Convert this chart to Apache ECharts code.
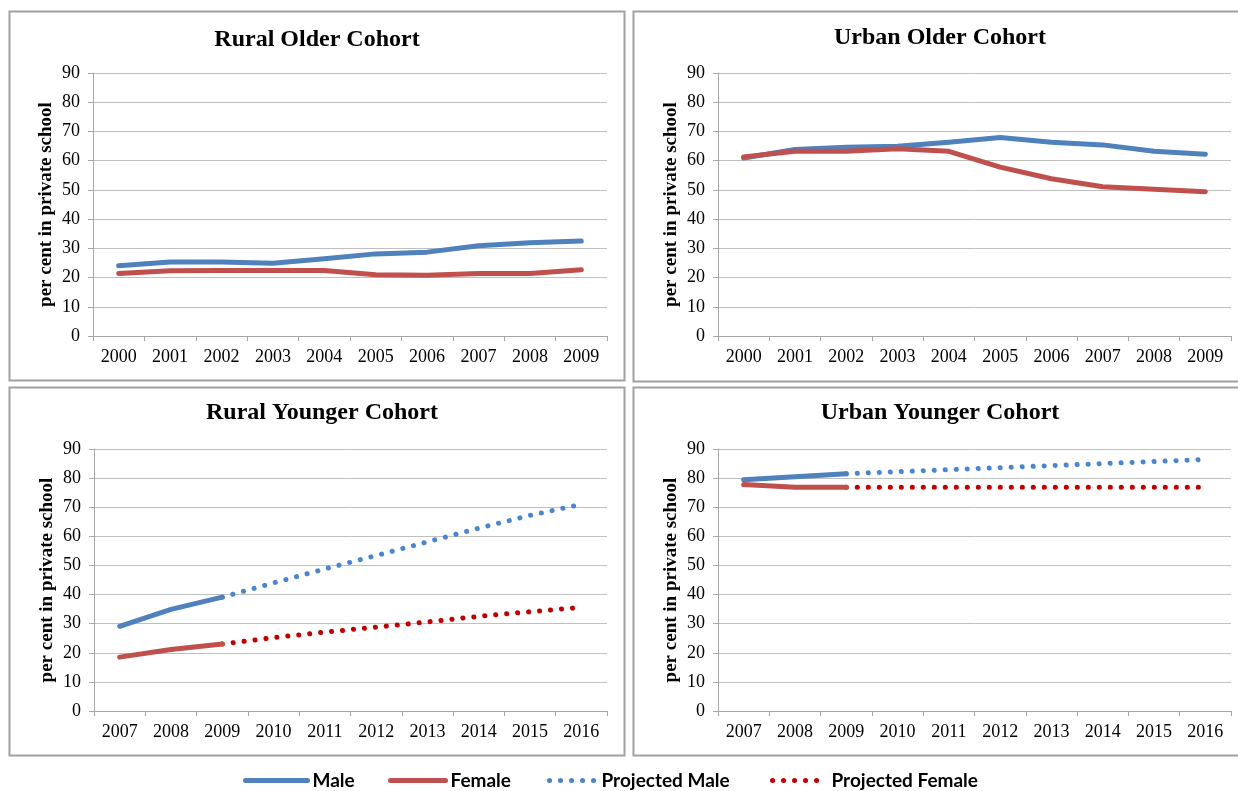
<!DOCTYPE html>
<html>
<head>
<meta charset="utf-8">
<script src="https://cdn.jsdelivr.net/npm/echarts@6/dist/echarts.min.js"></script>
<style>
html,body{margin:0;padding:0;background:#fff;}
#chart{width:1238px;height:791px;}
</style>
</head>
<body>
<div id="chart"></div>
<script>
// ---- Data ----
const olderYears = ['2000','2001','2002','2003','2004','2005','2006','2007','2008','2009'];
const youngerYears = ['2007','2008','2009','2010','2011','2012','2013','2014','2015','2016'];
const yTicks = [0,10,20,30,40,50,60,70,80,90];
const panelTitles = ['Rural Older Cohort','Urban Older Cohort','Rural Younger Cohort','Urban Younger Cohort'];
const legendNames = ['Male','Female','Projected Male','Projected Female'];

const ruralOlderMale   = [24.0,25.3,25.3,24.9,26.4,28.1,28.7,30.9,31.9,32.5];
const ruralOlderFemale = [21.4,22.3,22.4,22.4,22.4,21.0,20.8,21.4,21.4,22.7];
const urbanOlderMale   = [60.9,63.8,64.6,64.9,66.3,67.9,66.3,65.4,63.2,62.2];
const urbanOlderFemale = [61.3,63.2,63.2,64.1,63.2,57.8,53.8,51.1,50.2,49.4];

const ruralYoungerMale       = [29.1,34.9,39.1,null,null,null,null,null,null,null];
const ruralYoungerFemale     = [18.5,21.1,23.0,null,null,null,null,null,null,null];
const ruralYoungerProjMale   = [null,null,39.1,44.0,48.8,53.4,58.1,62.8,67.2,71.0];
const ruralYoungerProjFemale = [null,null,23.0,25.2,27.1,28.8,30.6,32.5,34.1,35.6];

const urbanYoungerMale       = [79.4,80.5,81.5,null,null,null,null,null,null,null];
const urbanYoungerFemale     = [77.8,76.9,76.9,null,null,null,null,null,null,null];
const urbanYoungerProjMale   = [null,null,81.5,82.2,82.9,83.6,84.3,85.0,85.7,86.4];
const urbanYoungerProjFemale = [null,null,76.9,76.9,76.9,76.9,76.9,76.9,76.9,76.9];

// ---- Styles ----
const C_MALE = '#4F81BD', C_FEMALE = '#C0504D', C_PMALE = '#4A86D0', C_PFEMALE = '#C00000';
const serif = 'Liberation Serif';
const dotType = [0.1, 10.9];

const grids = [
  {left:93, top:73, width:514, height:263},
  {left:718, top:73, width:513, height:263},
  {left:94, top:449, width:513, height:262},
  {left:718, top:449, width:513, height:262}
];
const panels = [
  {x:9, y:11, w:615, h:369},
  {x:633, y:11, w:610, h:370},
  {x:9, y:387, w:615, h:368},
  {x:633, y:387, w:610, h:368}
];
const titlePos = [
  {x:317, y:40}, {x:940, y:38}, {x:322, y:413}, {x:940, y:413}
];

const xAxes = grids.map((g,i)=>({
  type:'category', gridIndex:i, data: i<2 ? olderYears : youngerYears,
  boundaryGap:true,
  axisLine:{lineStyle:{color:'#A6A6A6', width:1}},
  axisTick:{show:true, length:5, lineStyle:{color:'#A6A6A6'}},
  axisLabel:{color:'#000', fontFamily:serif, fontSize:18, margin:12, interval:0}
}));
const yAxes = grids.map((g,i)=>({
  type:'value', gridIndex:i, min:0, max:90, interval:10,
  name:'per cent in private school', nameLocation:'middle', nameGap:37,
  nameTextStyle:{color:'#000', fontFamily:serif, fontSize:19, fontWeight:'bold'},
  axisLine:{show:true, lineStyle:{color:'#A6A6A6', width:1}},
  axisTick:{show:true, length:5, lineStyle:{color:'#A6A6A6'}},
  splitLine:{show:true, lineStyle:{color:'#BFBFBF', width:1}},
  axisLabel:{color:'#000', fontFamily:serif, fontSize:18, margin:13,
    formatter:(v)=> yTicks.indexOf(v)>=0 ? String(v) : ''}
}));

function solid(name, idx, data, color){
  return {name, type:'line', xAxisIndex:idx, yAxisIndex:idx, data,
    showSymbol:false, symbol:'none', connectNulls:false, silent:true,
    lineStyle:{color, width:5, cap:'round', join:'round'}, itemStyle:{color}};
}
function dotted(name, idx, data, color){
  return {name, type:'line', xAxisIndex:idx, yAxisIndex:idx, data,
    showSymbol:false, symbol:'none', connectNulls:false, silent:true,
    lineStyle:{color, width:5, type:dotType, cap:'round'}, itemStyle:{color}};
}

const series = [
  solid('Male',0,ruralOlderMale,C_MALE),
  solid('Female',0,ruralOlderFemale,C_FEMALE),
  solid('Male',1,urbanOlderMale,C_MALE),
  solid('Female',1,urbanOlderFemale,C_FEMALE),
  dotted('Projected Male',2,ruralYoungerProjMale,C_PMALE),
  dotted('Projected Female',2,ruralYoungerProjFemale,C_PFEMALE),
  solid('Male',2,ruralYoungerMale,C_MALE),
  solid('Female',2,ruralYoungerFemale,C_FEMALE),
  dotted('Projected Male',3,urbanYoungerProjMale,C_PMALE),
  dotted('Projected Female',3,urbanYoungerProjFemale,C_PFEMALE),
  solid('Male',3,urbanYoungerMale,C_MALE),
  solid('Female',3,urbanYoungerFemale,C_FEMALE)
];

const legendLayout = [
  {left:243, w:62, color:C_MALE, dot:false},
  {left:388, w:55, color:C_FEMALE, dot:false},
  {left:547, w:47, color:C_PMALE, dot:true},
  {left:770, w:54, color:C_PFEMALE, dot:true}
];
const legends = legendNames.map((n,i)=>({
  data:[n], left:legendLayout[i].left, top:771, itemWidth:legendLayout[i].w, itemHeight:14,
  itemGap:0, selectedMode:false, padding:0,
  textStyle:{color:'#000', fontFamily:'Lato', fontSize:19, fontWeight:'bold', padding:[0,0,0,0]},
  itemStyle:{color:legendLayout[i].color, opacity:0, borderWidth:0},
  lineStyle: legendLayout[i].dot
    ? {color:legendLayout[i].color, width:5, type:dotType, cap:'round', opacity:1}
    : {color:legendLayout[i].color, width:5, cap:'round', opacity:1}
}));

const graphic = [];
panels.forEach(p=>graphic.push({type:'rect', silent:true, z:-1,
  shape:{x:p.x+0.5, y:p.y+0.5, width:p.w, height:p.h},
  style:{fill:'none', stroke:'#A0A0A0', lineWidth:2}}));

panelTitles.forEach((t,i)=>graphic.push({type:'text', silent:true,
  x:titlePos[i].x, y:titlePos[i].y,
  style:{text:t, fontFamily:serif, fontSize:24, fontWeight:'bold', fill:'#000',
    align:'center', verticalAlign:'middle'}}));

const chart = echarts.init(document.getElementById('chart'), null, {renderer:'canvas'});
chart.setOption({
  animation:false,
  backgroundColor:'#fff',
  grid:grids,
  xAxis:xAxes,
  yAxis:yAxes,
  legend:legends,
  series,
  graphic
});
</script>
</body>
</html>
